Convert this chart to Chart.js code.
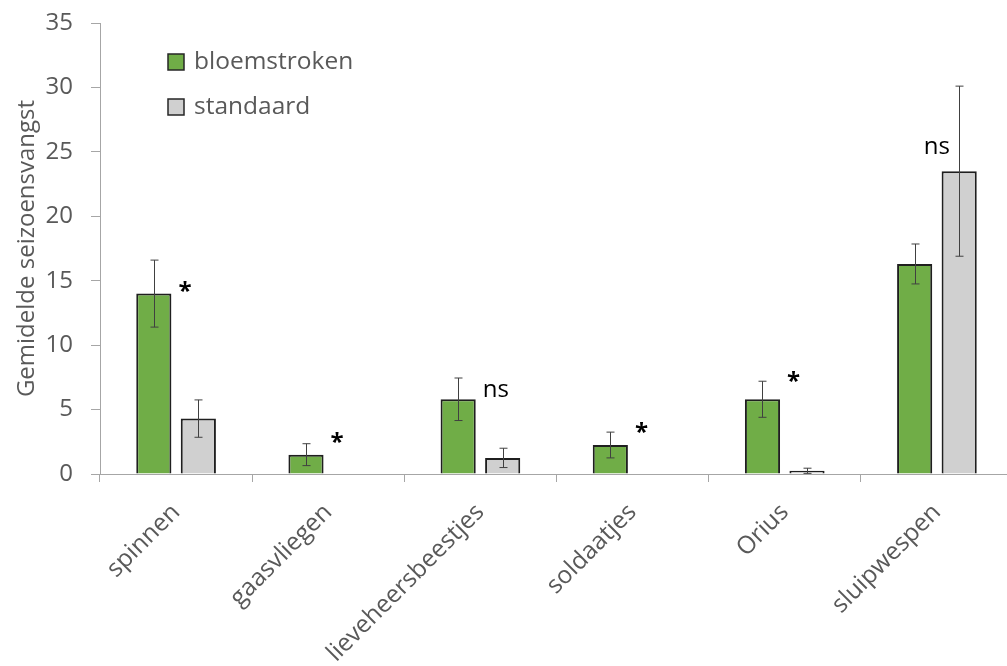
<!DOCTYPE html>
<html>
<head>
<meta charset="utf-8">
<script src="https://cdn.jsdelivr.net/npm/chart.js@4"></script>
<style>
  html, body { margin: 0; padding: 0; background: #fff; overflow: hidden; }
  #wrap { width: 1014px; height: 666px; }
</style>
</head>
<body>
<div id="wrap"><canvas id="chart"></canvas></div>
<script>
  // ======= 데이터 =======
  const categories = ['spinnen', 'gaasvliegen', 'lieveheersbeestjes', 'soldaatjes', 'Orius', 'sluipwespen'];
  const bloemstroken = [14.0, 1.5, 5.8, 2.25, 5.8, 16.3];
  const bloemErr = [2.6, 0.85, 1.65, 1.0, 1.4, 1.55];
  const standaard = [4.3, null, 1.25, null, 0.25, 23.5];
  const standErr = [1.45, null, 0.75, null, 0.2, 6.6];
  const sigLabels = ['*', '*', 'ns', '*', '*', 'ns'];
  const sigAt = [14.1, 2.4, 6.5, 3.2, 7.1, 25.4];
  const yTicks = [0, 5, 10, 15, 20, 25, 30, 35];

  const FONT = 'Open Sans';
  const GREY_TXT = '#595959';

  // ======= 오차막대 =======
  const errorBars = {
    id: 'errorBars',
    afterDatasetsDraw(chart) {
      const ctx = chart.ctx;
      const y = chart.scales.y;
      const errs = [bloemErr, standErr];
      ctx.save();
      ctx.strokeStyle = '#404040';
      ctx.lineWidth = 1;
      chart.data.datasets.forEach((ds, di) => {
        const meta = chart.getDatasetMeta(di);
        meta.data.forEach((bar, i) => {
          const v = ds.data[i], e = errs[di][i];
          if (v == null || e == null) return;
          const x = Math.round(bar.x) + 0.5;
          const y1 = y.getPixelForValue(v + e), y2 = y.getPixelForValue(v - e);
          ctx.beginPath();
          ctx.moveTo(x, y1); ctx.lineTo(x, y2);
          ctx.moveTo(x - 4, y1); ctx.lineTo(x + 4, y1);
          ctx.moveTo(x - 4, y2); ctx.lineTo(x + 4, y2);
          ctx.stroke();
        });
      });
      ctx.restore();
    }
  };

  // ======= 유의성 표시 =======
  const sigMarks = {
    id: 'sigMarks',
    afterDatasetsDraw(chart) {
      const ctx = chart.ctx;
      const y = chart.scales.y;
      const g = chart.getDatasetMeta(0).data;
      const s = chart.getDatasetMeta(1).data;
      ctx.save();
      ctx.fillStyle = '#000';
      ctx.textBaseline = 'middle';
      sigLabels.forEach((lab, i) => {
        const py = y.getPixelForValue(sigAt[i]);
        ctx.font = lab === '*' ? `bold 24px "${FONT}"` : `24px "${FONT}"`;
        if (standaard[i] != null && standaard[i] > bloemstroken[i]) {
          ctx.textAlign = 'center';
          ctx.fillText(lab, (g[i].x + s[i].x) / 2, py);
        } else {
          ctx.textAlign = 'left';
          ctx.fillText(lab, g[i].x + g[i].width / 2 + 7, py);
        }
      });
      ctx.restore();
    }
  };

  // ======= 범례 (차트 안) =======
  const innerLegend = {
    id: 'innerLegend',
    afterDraw(chart) {
      const ctx = chart.ctx;
      ctx.save();
      ctx.font = `24.5px "${FONT}"`;
      ctx.textBaseline = 'middle';
      chart.data.datasets.forEach((ds, i) => {
        const cy = 62 + i * 45;
        ctx.fillStyle = ds.backgroundColor;
        ctx.fillRect(168, cy - 8, 16, 16);
        ctx.strokeStyle = '#262626';
        ctx.lineWidth = 1.5;
        ctx.strokeRect(168, cy - 8, 16, 16);
        ctx.fillStyle = GREY_TXT;
        ctx.textAlign = 'left';
        ctx.fillText(ds.label, 194, cy);
      });
      ctx.restore();
    }
  };

  new Chart(document.getElementById('chart'), {
    type: 'bar',
    data: {
      labels: categories,
      datasets: [
        {
          label: 'bloemstroken',
          data: bloemstroken,
          backgroundColor: '#70AD47',
          borderColor: '#1f1f1f',
          borderWidth: 2,
          categoryPercentage: 0.585,
          barPercentage: 0.79
        },
        {
          label: 'standaard',
          data: standaard,
          backgroundColor: '#D0D0D0',
          borderColor: '#1f1f1f',
          borderWidth: 2,
          categoryPercentage: 0.585,
          barPercentage: 0.79
        }
      ]
    },
    options: {
      responsive: true,
      maintainAspectRatio: false,
      animation: false,
      layout: { padding: { top: 23, right: 1, left: 0, bottom: 0 } },
      plugins: {
        legend: { display: false },
        tooltip: { enabled: false }
      },
      scales: {
        x: {
          afterFit: s => { s.height = 192; s.paddingLeft = 0; s.paddingRight = 0; },
          border: { color: '#A6A6A6', width: 1 },
          grid: { drawOnChartArea: false, color: '#A6A6A6', tickLength: 8, offset: true },
          ticks: {
            color: GREY_TXT,
            font: { family: FONT, size: 24.5 },
            maxRotation: 45,
            minRotation: 45,
            padding: 16
          }
        },
        y: {
          min: 0,
          max: 35,
          afterFit: s => { s.width = 100; s.paddingTop = 0; s.paddingBottom = 0; },
          afterBuildTicks: s => { s.ticks = yTicks.map(v => ({ value: v })); },
          border: { color: '#A6A6A6', width: 1 },
          grid: { drawOnChartArea: false, color: '#A6A6A6', tickLength: 9 },
          ticks: {
            color: GREY_TXT,
            font: { family: FONT, size: 24 },
            padding: 18
          },
          title: {
            display: true,
            text: 'Gemidelde seizoensvangst',
            color: GREY_TXT,
            font: { family: FONT, size: 24 },
            padding: { top: 13, bottom: 0 }
          }
        }
      }
    },
    plugins: [errorBars, sigMarks, innerLegend]
  });
</script>
</body>
</html>
